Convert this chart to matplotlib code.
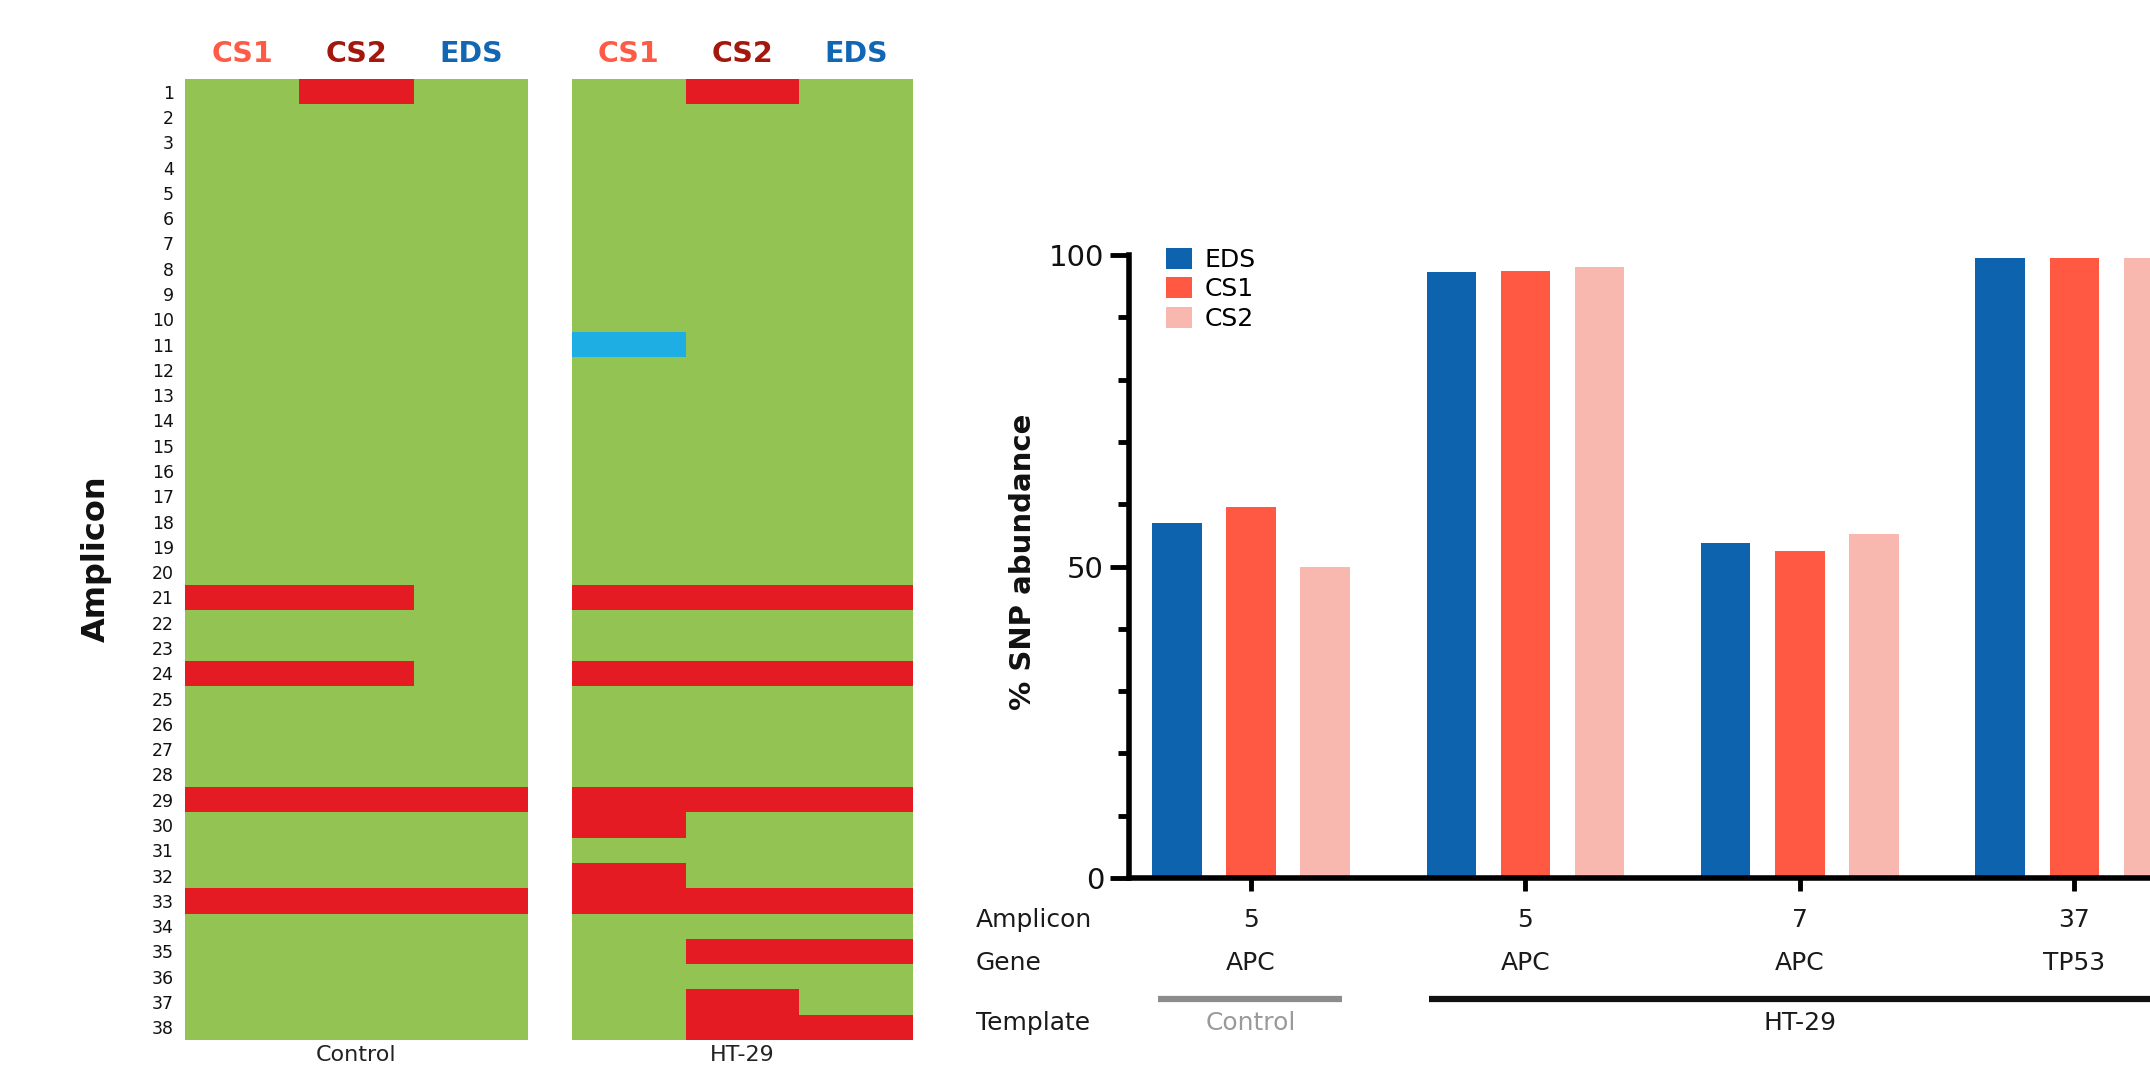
#!/usr/bin/env python3
import matplotlib

matplotlib.use("Agg")
import matplotlib.pyplot as plt
import numpy as np
from matplotlib.colors import ListedColormap
from matplotlib.transforms import blended_transform_factory

# heatmap data: amplicon rows, caller columns, cells flagged red / blue
AMPLICONS = list(range(1, 39))
CALLERS = ["CS1", "CS2", "EDS"]
CONTROL_RED = {"CS1": [21, 24, 29, 33], "CS2": [1, 21, 24, 29, 33], "EDS": [29, 33]}
HT29_RED = {
    "CS1": [21, 24, 29, 30, 32, 33],
    "CS2": [1, 21, 24, 29, 33, 35, 37, 38],
    "EDS": [21, 24, 29, 33, 35, 38],
}
HT29_BLUE = {"CS1": [11]}
PANELS = ["Control", "HT-29"]

# bar chart data
GROUP_AMPLICON = ["5", "5", "7", "37"]
GROUP_GENE = ["APC", "APC", "APC", "TP53"]
SERIES = ["EDS", "CS1", "CS2"]
EDS_VALS = [57.0, 97.3, 53.7, 99.5]
CS1_VALS = [59.5, 97.5, 52.5, 99.5]
CS2_VALS = [50.0, 98.0, 55.2, 99.5]

HEAD_COLORS = {"CS1": "#ff5a45", "CS2": "#a3170c", "EDS": "#1267b4"}
BAR_COLORS = {"EDS": "#0e63ae", "CS1": "#ff5843", "CS2": "#f9b8af"}
CELL_CMAP = ListedColormap(["#92c353", "#e41b22", "#1eaee3"])

W, H = 2150, 1066
fig = plt.figure(figsize=(W / 100, H / 100), dpi=100)
plt.rcParams["font.family"] = ["DejaVu Sans"]


def status_matrix(red, blue=None):
    mat = np.zeros((len(AMPLICONS), len(CALLERS)))
    for j, c in enumerate(CALLERS):
        for a in red.get(c, []):
            mat[AMPLICONS.index(a), j] = 1
        for a in (blue or {}).get(c, []):
            mat[AMPLICONS.index(a), j] = 2
    return mat


def heat_panel(rect, mat, name, show_rows):
    ax = fig.add_axes(rect)
    ax.pcolormesh(np.arange(len(CALLERS) + 1), np.arange(len(AMPLICONS) + 1), mat,
                  cmap=CELL_CMAP, vmin=0, vmax=2)
    ax.set_ylim(len(AMPLICONS), 0)
    ax.set_xlim(0, len(CALLERS))
    for s in ax.spines.values():
        s.set_visible(False)
    ax.set_xticks([])
    if show_rows:
        ax.set_yticks(np.arange(len(AMPLICONS)) + 0.5)
        ax.set_yticklabels([str(a) for a in AMPLICONS], fontsize=12.5, color="#111111")
        ax.tick_params(axis="y", length=0, pad=8)
    else:
        ax.set_yticks([])
    for j, c in enumerate(CALLERS):
        ax.text(j + 0.5, 1 + 25 / (rect[3] * H), c, transform=blended_transform_factory(ax.transData, ax.transAxes),
                ha="center", va="center", fontsize=20.5, fontweight="bold", color=HEAD_COLORS[c])
    fig.text(rect[0] + rect[2] / 2, 1 - 1065 / H, name, ha="center", va="bottom", fontsize=16, color="#222222")
    return ax


heat_panel([185 / W, 1 - 1040 / H, 343 / W, 961 / H], status_matrix(CONTROL_RED), PANELS[0], True)
heat_panel([572 / W, 1 - 1040 / H, 341 / W, 961 / H], status_matrix(HT29_RED, HT29_BLUE), PANELS[1], False)
fig.text(96 / W, 1 - 559 / H, "Amplicon", rotation=90, ha="center", va="center",
         fontsize=23, fontweight="bold", color="#111111")

# bar chart, cut at the right edge of the figure
ax = fig.add_axes([1129 / W, 1 - 878 / H, (W - 1129) / W, 623 / H])
x = np.arange(len(GROUP_AMPLICON))
width = 0.18
step = 0.27
for k, (name, vals) in enumerate(zip(SERIES, [EDS_VALS, CS1_VALS, CS2_VALS])):
    ax.bar(x + (k - 1) * step, vals, width, color=BAR_COLORS[name], label=name, zorder=2)

ax.set_xlim(-0.445, 3.276)
ax.set_ylim(0, 100)
ax.spines["top"].set_visible(False)
ax.spines["right"].set_visible(False)
for s in ("left", "bottom"):
    ax.spines[s].set_linewidth(4)
ax.set_yticks([0, 50, 100])
ax.set_yticks(np.arange(0, 101, 10), minor=True)
ax.tick_params(axis="y", which="major", length=14, width=3.5, labelsize=21, pad=4, labelcolor="#111111")
ax.tick_params(axis="y", which="minor", length=8, width=3.5)
ax.set_xticks(x)
ax.set_xticklabels([])
ax.tick_params(axis="x", length=9, width=3.5)

ax.legend(loc="upper left", bbox_to_anchor=(0.036, 1.012), frameon=False, fontsize=18,
          borderpad=0, borderaxespad=0, handlelength=1.04, handleheight=0.92,
          handletextpad=0.5, labelspacing=0.22)

fig.text(1023 / W, 1 - 562 / H, "% SNP abundance", rotation=90, ha="center", va="center",
         fontsize=21, fontweight="bold", color="#111111")

# category table under the bars
tr = blended_transform_factory(ax.transData, fig.transFigure)
y_amp, y_gene, y_line, y_tmpl = 1 - 920 / H, 1 - 963 / H, 1 - 999 / H, 1 - 1023 / H
for lbl, yy in [("Amplicon", y_amp), ("Gene", y_gene), ("Template", y_tmpl)]:
    fig.text(976 / W, yy, lbl, ha="left", va="center", fontsize=18, color="#1a1a1a")
for xi, amp, gene in zip(x, GROUP_AMPLICON, GROUP_GENE):
    ax.text(xi, y_amp, amp, transform=tr, ha="center", va="center", fontsize=18, color="#1a1a1a", clip_on=False)
    ax.text(xi, y_gene, gene, transform=tr, ha="center", va="center", fontsize=18, color="#1a1a1a", clip_on=False)

ax.plot([-0.338, 0.333], [y_line, y_line], transform=tr, color="#8c8c8c", lw=4.5, clip_on=False,
        solid_capstyle="butt")
ax.text(0, y_tmpl, PANELS[0], transform=tr, ha="center", va="center", fontsize=18, color="#9a9a9a", clip_on=False)
ax.plot([0.647, 3.355], [y_line, y_line], transform=tr, color="#111111", lw=4.5, clip_on=False,
        solid_capstyle="butt")
ax.text(2, y_tmpl, PANELS[1], transform=tr, ha="center", va="center", fontsize=18, color="#1a1a1a", clip_on=False)

fig.savefig("out.png", dpi=100)
